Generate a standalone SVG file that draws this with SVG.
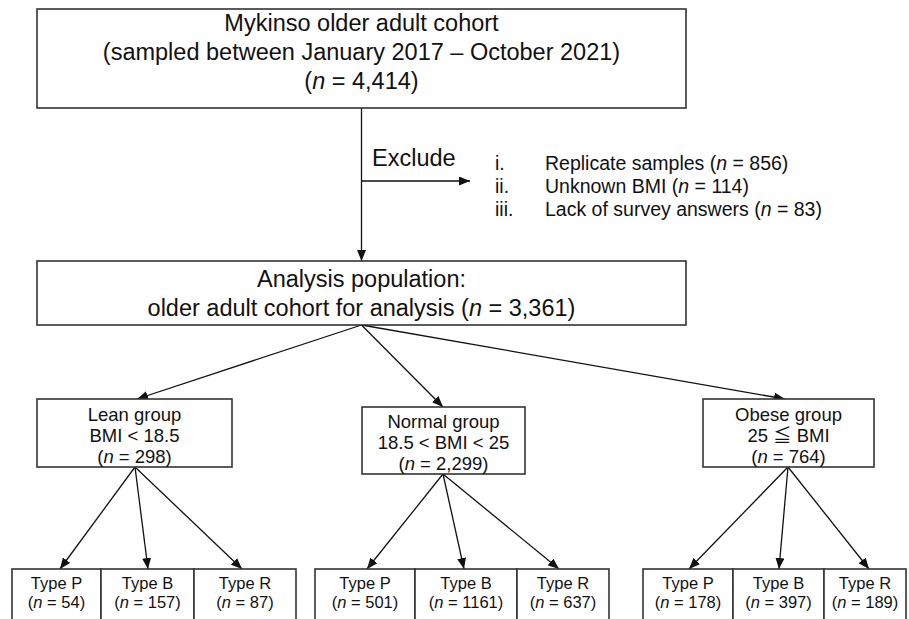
<svg xmlns="http://www.w3.org/2000/svg" width="909" height="619" viewBox="0 0 909 619">
<style>
text{font-family:"Liberation Sans","Noto Sans CJK JP",sans-serif;fill:#111;text-anchor:middle}
.big{font-size:23.5px}
.mid{font-size:19.5px;text-anchor:start}
.grp{font-size:18.5px}
.sm{font-size:16.5px}
.box{fill:#fff;stroke:#333;stroke-width:1.6}
.con{stroke:#111;stroke-width:1.3;fill:none;marker-end:url(#ah)}
.i{font-style:italic}
</style>
<defs>
<marker id="ah" markerUnits="userSpaceOnUse" markerWidth="11" markerHeight="9" refX="11" refY="4.5" orient="auto">
<path d="M0,0 L11,4.5 L0,9 z" fill="#111"/>
</marker>
</defs>
<rect width="909" height="619" fill="#fff"/>
<g id="connectors">
<line class="con" x1="361.5" y1="108" x2="361.5" y2="261"/>
<line class="con" x1="361.5" y1="181" x2="470" y2="181"/>
<line class="con" x1="361.5" y1="325" x2="137" y2="399"/>
<line class="con" x1="361.5" y1="325" x2="443" y2="407"/>
<line class="con" x1="361.5" y1="325" x2="785" y2="399"/>
<line class="con" x1="135" y1="467" x2="60" y2="569"/>
<line class="con" x1="135" y1="467" x2="148" y2="569"/>
<line class="con" x1="135" y1="467" x2="242" y2="569"/>
<line class="con" x1="443" y1="474" x2="367" y2="569"/>
<line class="con" x1="443" y1="474" x2="464" y2="569"/>
<line class="con" x1="443" y1="474" x2="559" y2="569"/>
<line class="con" x1="788" y1="467" x2="689" y2="569"/>
<line class="con" x1="788" y1="467" x2="779" y2="569"/>
<line class="con" x1="788" y1="467" x2="869" y2="569"/>
</g>
<g id="cohort">
<rect class="box" x="37" y="9" width="649" height="99"/>
<text class="big" x="361.5" y="31">Mykinso older adult cohort</text>
<text class="big" x="361.5" y="60">(sampled between January 2017 – October 2021)</text>
<text class="big" x="361.5" y="89">(<tspan class="i">n</tspan> = 4,414)</text>
</g>
<g id="exclude">
<text class="big" x="372" y="166" style="text-anchor:start">Exclude</text>
<text class="mid" x="495" y="170">i.</text>
<text class="mid" x="545" y="170">Replicate samples (<tspan class="i">n</tspan> = 856)</text>
<text class="mid" x="495" y="193">ii.</text>
<text class="mid" x="545" y="193">Unknown BMI (<tspan class="i">n</tspan> = 114)</text>
<text class="mid" x="495" y="216">iii.</text>
<text class="mid" x="545" y="216">Lack of survey answers (<tspan class="i">n</tspan> = 83)</text>
</g>
<g id="analysis">
<rect class="box" x="37" y="261" width="649" height="64"/>
<text class="big" x="361.5" y="287">Analysis population:</text>
<text class="big" x="361.5" y="316">older adult cohort for analysis (<tspan class="i">n</tspan> = 3,361)</text>
</g>
<g id="lean">
<rect class="box" x="37" y="399" width="195" height="68"/>
<text class="grp" x="134.5" y="421">Lean group</text>
<text class="grp" x="134.5" y="442">BMI &lt; 18.5</text>
<text class="grp" x="134.5" y="463">(<tspan class="i">n</tspan> = 298)</text>
</g>
<g id="normal">
<rect class="box" x="362" y="407" width="163" height="67"/>
<text class="grp" x="443.5" y="428">Normal group</text>
<text class="grp" x="443.5" y="449">18.5 &lt; BMI &lt; 25</text>
<text class="grp" x="443.5" y="470">(<tspan class="i">n</tspan> = 2,299)</text>
</g>
<g id="obese">
<rect class="box" x="703" y="399" width="171" height="68"/>
<text class="grp" x="788.5" y="421">Obese group</text>
<text class="grp" x="788.5" y="442">25 ≦ BMI</text>
<text class="grp" x="788.5" y="463">(<tspan class="i">n</tspan> = 764)</text>
</g>
<g id="lean-types">
<rect class="box" x="12" y="569" width="89" height="60"/>
<rect class="box" x="101" y="569" width="93" height="60"/>
<rect class="box" x="194" y="569" width="102" height="60"/>
<text class="sm" x="56.5" y="589">Type P</text>
<text class="sm" x="56.5" y="608">(<tspan class="i">n</tspan> = 54)</text>
<text class="sm" x="147.5" y="589">Type B</text>
<text class="sm" x="147.5" y="608">(<tspan class="i">n</tspan> = 157)</text>
<text class="sm" x="245" y="589">Type R</text>
<text class="sm" x="245" y="608">(<tspan class="i">n</tspan> = 87)</text>
</g>
<g id="normal-types">
<rect class="box" x="315" y="569" width="100" height="60"/>
<rect class="box" x="415" y="569" width="102" height="60"/>
<rect class="box" x="517" y="569" width="92" height="60"/>
<text class="sm" x="365" y="589">Type P</text>
<text class="sm" x="365" y="608">(<tspan class="i">n</tspan> = 501)</text>
<text class="sm" x="466" y="589">Type B</text>
<text class="sm" x="466" y="608">(<tspan class="i">n</tspan> = 1161)</text>
<text class="sm" x="563" y="589">Type R</text>
<text class="sm" x="563" y="608">(<tspan class="i">n</tspan> = 637)</text>
</g>
<g id="obese-types">
<rect class="box" x="643" y="569" width="90" height="60"/>
<rect class="box" x="733" y="569" width="91" height="60"/>
<rect class="box" x="824" y="569" width="82" height="60"/>
<text class="sm" x="688" y="589">Type P</text>
<text class="sm" x="688" y="608">(<tspan class="i">n</tspan> = 178)</text>
<text class="sm" x="778.5" y="589">Type B</text>
<text class="sm" x="778.5" y="608">(<tspan class="i">n</tspan> = 397)</text>
<text class="sm" x="865" y="589">Type R</text>
<text class="sm" x="865" y="608">(<tspan class="i">n</tspan> = 189)</text>
</g>
</svg>
